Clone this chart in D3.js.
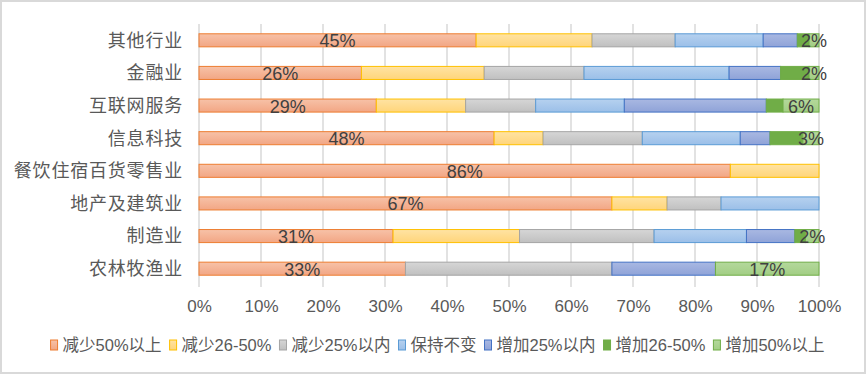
<!DOCTYPE html>
<html>
<head>
<meta charset="utf-8">
<script src="https://cdn.jsdelivr.net/npm/d3@7"></script>
<style>
  body { margin: 0; background: #fff; }
  text { font-family: "Liberation Sans", "Noto Sans CJK SC", sans-serif; }
</style>
</head>
<body>
<div id="chart"></div>
<script>
"use strict";

// Categories, top to bottom
const categories = ["其他行业", "金融业", "互联网服务", "信息科技", "餐饮住宿百货零售业", "地产及建筑业", "制造业", "农林牧渔业"];

// Series names (legend order)
const seriesNames = ["减少50%以上", "减少26-50%", "减少25%以内", "保持不变", "增加25%以内", "增加26-50%", "增加50%以上"];

// Share of each category, in percent
const drop50 = [44.7, 26.2, 28.6, 47.6, 85.7, 66.6, 31.3, 33.3];
const drop26 = [18.7, 19.8, 14.4, 7.9, 14.3, 8.9, 20.4, 0];
const drop25 = [13.4, 16.1, 11.3, 16.0, 0, 8.7, 21.7, 33.3];
const keep = [14.2, 23.4, 14.3, 15.8, 0, 15.8, 14.9, 0];
const up25 = [5.5, 8.3, 22.9, 4.8, 0, 0, 7.8, 16.7];
const up26 = [1.9, 4.6, 2.7, 5.3, 0, 0, 1.7, 0];
const up50 = [1.6, 1.6, 5.8, 2.6, 0, 0, 2.2, 16.7];

const seriesValues = [drop50, drop26, drop25, keep, up25, up26, up50];

// Only these series carry data labels
const labelledSeries = ["减少50%以上", "增加50%以上"];

const xTicks = [0, 10, 20, 30, 40, 50, 60, 70, 80, 90, 100];

// Fill (top, bottom) and border for each series
const fills = [
  ["#F7C2A8", "#F2A684", "#ED7D31"],
  ["#FFE3A3", "#FFD57A", "#FFC000"],
  ["#D6D6D6", "#C0C0C0", "#A5A5A5"],
  ["#B6D1EF", "#9BBFE8", "#5B9BD5"],
  ["#A9B8E2", "#8FA3D8", "#4472C4"],
  ["#70AD47", "#70AD47", "#70AD47"],
  ["#B4D89C", "#A2CE84", "#70AD47"]
];

const W = 867, H = 375;
const plotLeft = 199, plotRight = 819, plotTop = 24, plotBottom = 285;

let svg = d3.select("#chart").append("svg")
  .attr("width", W)
  .attr("height", H);

// Outer border
svg.append("rect")
  .attr("x", 1).attr("y", 1)
  .attr("width", W - 3).attr("height", H - 3)
  .attr("fill", "#fff")
  .attr("stroke", "#D9D9D9")
  .attr("stroke-width", 2);

// Gradients
let defs = svg.append("defs");
fills.forEach(function(f, i) {
  let g = defs.append("linearGradient")
    .attr("id", "grad" + i)
    .attr("x1", 0).attr("y1", 0).attr("x2", 0).attr("y2", 1);
  g.append("stop").attr("offset", "0%").attr("stop-color", f[0]);
  g.append("stop").attr("offset", "100%").attr("stop-color", f[1]);
});

let x = d3.scaleLinear().domain([0, 100]).range([plotLeft, plotRight]);
let y = d3.scaleBand().domain(categories).range([plotTop, plotBottom]).paddingInner(0.6).paddingOuter(0.3);

// Gridlines
svg.append("g")
  .selectAll("line")
  .data(xTicks)
  .join("line")
  .attr("x1", d => x(d)).attr("x2", d => x(d))
  .attr("y1", plotTop).attr("y2", plotBottom + 2)
  .attr("stroke", "#D9D9D9")
  .attr("stroke-width", 1.5);

// X axis labels
let xAxis = svg.append("g")
  .attr("transform", "translate(0," + (plotBottom + 24) + ")")
  .call(d3.axisBottom(x).tickValues(xTicks).tickFormat(d => d + "%").tickSize(0));
xAxis.select(".domain").remove();
xAxis.selectAll("text")
  .attr("dy", 0)
  .attr("font-size", "17px")
  .attr("fill", "#595959");

// Category labels
let yAxis = svg.append("g")
  .attr("transform", "translate(183,0)")
  .call(d3.axisLeft(y).tickSize(0).tickPadding(0));
yAxis.select(".domain").remove();
yAxis.selectAll("text")
  .attr("font-size", "18px")
  .attr("letter-spacing", "0.8px")
  .attr("dy", "0.35em")
  .attr("fill", "#595959");

// Stack the series
let rows = categories.map(function(c, i) {
  let r = {category: c};
  seriesNames.forEach(function(s, j) { r[s] = seriesValues[j][i]; });
  return r;
});
let stacked = d3.stack().keys(seriesNames)(rows);

stacked.forEach(function(layer, j) {
  let lg = svg.append("g");
  lg.selectAll("rect")
    .data(layer.filter(d => d[1] - d[0] > 0))
    .join("rect")
    .attr("x", d => x(d[0]))
    .attr("y", d => y(d.data.category))
    .attr("width", d => x(d[1]) - x(d[0]))
    .attr("height", y.bandwidth())
    .attr("fill", "url(#grad" + j + ")")
    .attr("stroke", fills[j][2])
    .attr("stroke-width", 1);
});

// Data labels
stacked.forEach(function(layer) {
  if (labelledSeries.indexOf(layer.key) < 0) return;
  svg.append("g")
    .selectAll("text")
    .data(layer.filter(d => d[1] - d[0] > 0))
    .join("text")
    .attr("x", d => (x(d[0]) + x(d[1])) / 2)
    .attr("y", d => y(d.data.category) + y.bandwidth() / 2 + 1)
    .attr("text-anchor", "middle")
    .attr("dominant-baseline", "central")
    .attr("font-size", "18px")
    .attr("fill", "#404040")
    .text(d => Math.round(d[1] - d[0]) + "%");
});

// Legend
let legend = svg.append("g");
let lx = 0;
seriesNames.forEach(function(s, j) {
  let it = legend.append("g");
  it.append("rect")
    .attr("x", 0).attr("y", -5)
    .attr("width", 7).attr("height", 10)
    .attr("fill", "url(#grad" + j + ")")
    .attr("stroke", fills[j][2])
    .attr("stroke-width", 1);
  let t = it.append("text")
    .attr("x", 12)
    .attr("dominant-baseline", "central")
    .attr("font-size", "16.5px")
    .attr("fill", "#595959")
    .text(s);
  let w = 12 + t.node().getComputedTextLength();
  it.attr("transform", "translate(" + lx + ",0)");
  lx += w + 8;
});
lx -= 8;
legend.attr("transform", "translate(" + ((51 + 824) / 2 - lx / 2) + ",345)");
</script>
</body>
</html>
